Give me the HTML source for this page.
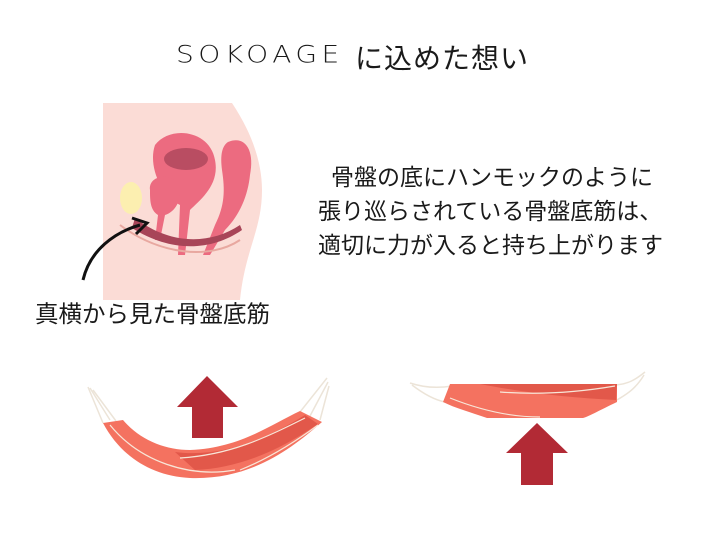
<!DOCTYPE html>
<html><head><meta charset="utf-8"><style>
body{margin:0;width:712px;height:534px;background:#fff;overflow:hidden;position:relative;font-family:"Liberation Sans","Noto Sans CJK JP",sans-serif;color:#1a1a1a}
.t{position:absolute;white-space:nowrap}
</style></head><body>
<svg width="712" height="534" style="position:absolute;left:0;top:0">
<path d="M103,103 L232,103 C250,130 262,160 262,190 C262,230 245,250 240,300 L103,300 Z" fill="#fbdcd6"/>
<path d="M155,145 C170,125 210,130 215,160 C220,185 200,200 190,210 L185,255 L178,255 L180,205 C160,195 148,165 155,145Z" fill="#ec6b80"/>
<ellipse cx="186" cy="159" rx="22" ry="11" fill="#b94d62"/>
<path d="M150,190 C148,175 172,172 178,185 C183,200 175,212 165,215 L160,240 L155,240 L158,215 C150,210 150,200 150,190Z" fill="#ec6b80"/>
<path d="M228,142 C245,135 255,150 250,175 C248,195 240,215 225,230 L210,255 L203,255 L215,225 C225,205 225,190 222,170 C220,155 222,146 228,142Z" fill="#ec6b80"/>
<ellipse cx="131" cy="198" rx="11" ry="16" fill="#fcefb0"/>
<path d="M135,218 C170,245 210,245 240,225 L242,230 C210,252 170,252 132,228Z" fill="#a84558"/>
<path d="M120,225 C160,255 210,260 240,240" stroke="#e8a8a0" stroke-width="2" fill="none"/>
<path d="M83,280 C90,250 115,232 140,225" stroke="#111" stroke-width="3" fill="none"/>
<path d="M132,218 L147,223 L136,234" stroke="#111" stroke-width="3" fill="none"/>
<path d="M88,387 L103,423 M90,388 L110,420 M93,390 L116,421 M327,378 L300,412 M328,382 L310,416 M329,386 L320,420" stroke="#ece4d8" stroke-width="1.5"/>
<path d="M103,423 L123,420 C140,440 165,450 190,450 C240,448 270,425 300,411 L322,422 C290,450 250,480 190,478 C150,476 120,455 103,423 Z" fill="#f47260"/>
<path d="M175,452 C220,458 265,440 305,415 L318,424 C280,450 240,468 195,470 Z" fill="#e2584a"/>
<path d="M110,425 C140,462 190,478 235,470 M180,458 C230,455 265,438 305,418 M240,470 C270,458 295,442 318,425" stroke="#f8e6d8" stroke-width="1.2" fill="none"/>
<path d="M207,376 L238,407 L223,407 L223,438 L192,438 L192,407 L177,407Z" fill="#b22a35"/>
<path d="M410,383 C425,388 440,388 452,386 M412,385 C425,395 435,400 445,402 M645,372 C635,380 628,384 616,385 M644,375 C635,390 625,395 617,400" stroke="#ece4d8" stroke-width="1.5" fill="none"/>
<path d="M450,384 L617,384 L617,402 C600,410 590,416 583,418 L487,418 C470,412 455,408 443,402Z" fill="#f47260"/>
<path d="M480,384 L617,384 L616,400 C570,398 520,392 480,384Z" fill="#e2584a"/>
<path d="M450,398 C480,410 510,417 540,417 M500,392 C540,395 580,392 615,386" stroke="#f8e6d8" stroke-width="1.2" fill="none"/>
<path d="M537,423 L568,453 L553,453 L553,485 L521,485 L521,453 L506,453Z" fill="#b22a35"/>
</svg>
<div class="t" style="left:176px;top:38px;font-size:28px;letter-spacing:4.5px;font-weight:300;font-family:'DejaVu Sans','Noto Sans CJK JP',sans-serif;transform:scaleY(0.85)">SOKOAGE</div>
<div class="t" style="left:355px;top:37px;font-size:28px;letter-spacing:1px">に込めた想い</div>
<div class="t" style="left:331px;top:158px;font-size:23px">骨盤の底にハンモックのように</div>
<div class="t" style="left:318px;top:192px;font-size:23px">張り巡らされている骨盤底筋は、</div>
<div class="t" style="left:318px;top:226px;font-size:23px">適切に力が入ると持ち上がります</div>
<div class="t" style="left:35px;top:295px;font-size:23.5px">真横から見た骨盤底筋</div>
</body></html>
